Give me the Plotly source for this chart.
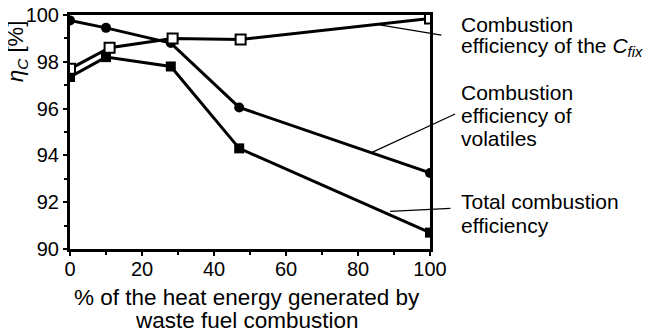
import plotly.graph_objects as go

# share of heat from waste fuel [%]
x_cfix = [0, 11, 28.5, 47.4, 100]
x_vol = [0, 10, 28, 47, 100]
x_total = [0, 10, 28, 47, 100]

# combustion efficiencies [%]
eta_cfix = [97.7, 98.6, 99.0, 98.95, 99.85]
eta_vol = [99.77, 99.45, 98.8, 96.05, 93.25]
eta_total = [97.35, 98.2, 97.8, 94.3, 90.7]

font = "Liberation Sans, Arial, sans-serif"
line = dict(color="black", width=3)

# page body has an 8px margin, so the plot box is shifted back by that much
L, T, W, H = 62, 7, 360, 234

def py(px):
    # reference pixel row -> paper y
    return (T + 8 + H - px) / H

def px_(col):
    # reference pixel column -> paper x
    return (col - L - 8) / W

fig = go.Figure()
fig.add_trace(go.Scatter(x=x_vol, y=eta_vol, mode="lines+markers", line=line,
                         marker=dict(symbol="circle", size=10, color="black")))
fig.add_trace(go.Scatter(x=x_total, y=eta_total, mode="lines+markers", line=line,
                         marker=dict(symbol="square", size=10, color="black")))
fig.add_trace(go.Scatter(x=x_cfix, y=eta_cfix, mode="lines+markers", line=line,
                         marker=dict(symbol="square", size=10, color="white",
                                     line=dict(color="black", width=2))))

# labels on the right, one annotation per line
label_lines = [
    ("Combustion", 25), ("efficiency of the <i>C</i><sub><i>fix</i></sub>", 47),
    ("Combustion", 92), ("efficiency of", 115), ("volatiles", 138),
    ("Total combustion", 201), ("efficiency", 225),
]
for text, row in label_lines:
    fig.add_annotation(x=1.08, y=py(row), xref="paper", yref="paper", text=text, showarrow=False,
                       xanchor="left", yanchor="middle", align="left",
                       font=dict(family=font, size=21, color="black"))

# thin pointer lines (head on the curve, tail at the label)
pointers = [((86, 99.58), (103.6, 99.13)),
            ((83.9, 94.13), (107.4, 95.8)),
            ((88.9, 91.61), (106.1, 91.74))]
for head, tail in pointers:
    fig.add_annotation(x=head[0], y=head[1], ax=tail[0], ay=tail[1], xref="x", yref="y",
                       axref="x", ayref="y", text="", showarrow=True, arrowhead=0,
                       arrowwidth=1.2, arrowcolor="black")

# y title
fig.add_annotation(x=px_(17), y=py(52), xref="paper", yref="paper", textangle=-90,
                   xanchor="center", yanchor="middle",
                   text="<i>η</i><sub><i>C</i></sub> [%]", showarrow=False,
                   font=dict(family=font, size=22, color="black"))
# x title
for text, row in [("% of the heat energy generated by", 297), ("waste fuel combustion", 320)]:
    fig.add_annotation(x=px_(247), y=py(row), xref="paper", yref="paper",
                       xanchor="center", yanchor="middle",
                       text=text, showarrow=False, font=dict(family=font, size=22.5, color="black"))

fig.update_layout(
    width=659, height=332,
    margin=dict(l=L, r=659 - L - W, t=T, b=332 - T - H, autoexpand=False),
    paper_bgcolor="white", plot_bgcolor="white",
    showlegend=False,
    font=dict(family=font, size=20, color="black"),
    xaxis=dict(range=[0, 100], tickvals=[0, 20, 40, 60, 80, 100], showgrid=False, zeroline=False,
               showline=True, linecolor="black", linewidth=3, mirror=True,
               ticks="outside", ticklen=4, tickwidth=1.5, tickcolor="black", ticklabelstandoff=-4,
               ticklabeloverflow="allow",
               minor=dict(dtick=10, ticks="outside", ticklen=3, tickcolor="black")),
    yaxis=dict(range=[90, 100], tickvals=[90, 92, 94, 96, 98, 100], showgrid=False, zeroline=False,
               showline=True, linecolor="black", linewidth=3, mirror=True,
               ticks="outside", ticklen=4, tickwidth=1.5, tickcolor="black",
               ticklabeloverflow="allow",
               minor=dict(dtick=1, ticks="outside", ticklen=3, tickcolor="black")),
)

fig.write_html("out.html")
